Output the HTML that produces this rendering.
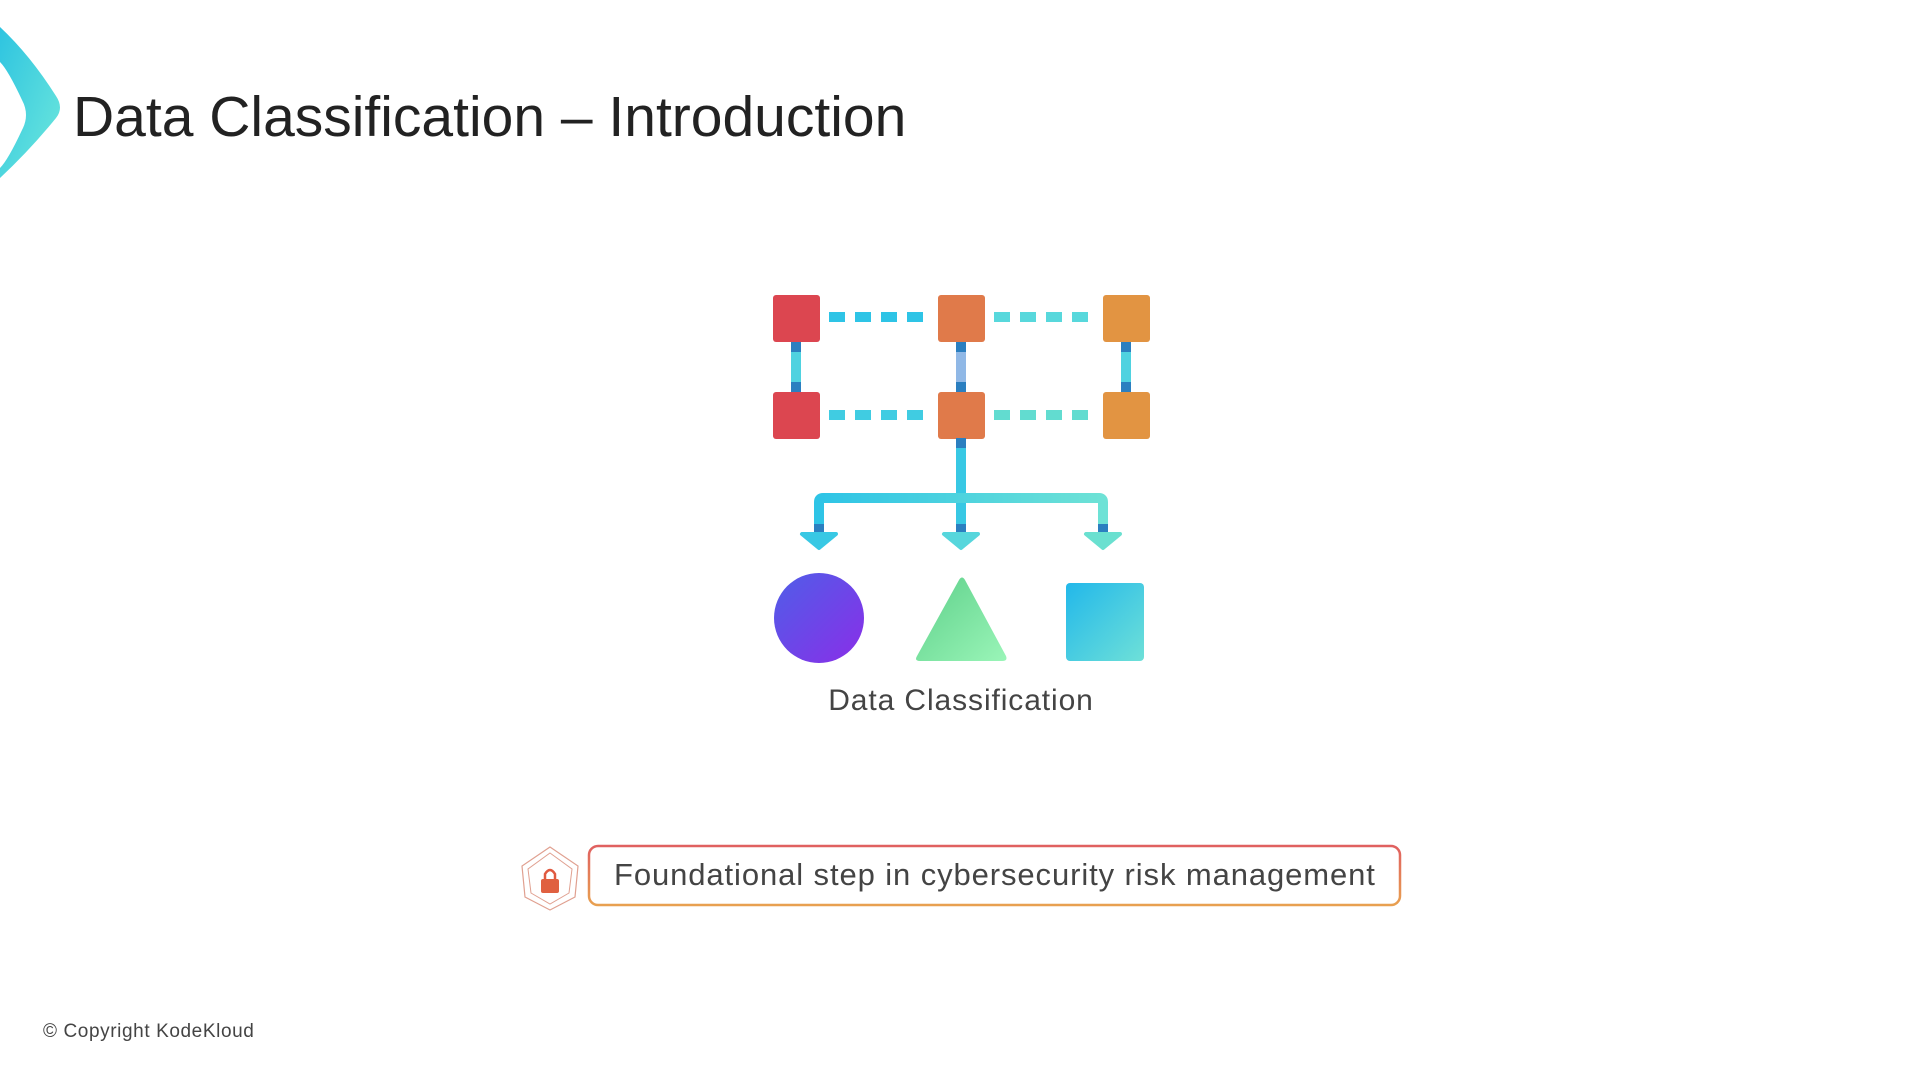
<!DOCTYPE html>
<html><head><meta charset="utf-8"><style>
html,body{margin:0;padding:0;background:#fff;}
body{width:1920px;height:1080px;position:relative;overflow:hidden;font-family:"Liberation Sans","DejaVu Sans",sans-serif;}
.t{position:absolute;white-space:nowrap;}
</style></head><body>
<svg width="1920" height="1080" style="position:absolute;left:0;top:0">
<defs>
<linearGradient id="chev" x1="0" y1="0" x2="1" y2="1"><stop offset="0" stop-color="#2ec4e0"/><stop offset="1" stop-color="#6ee8dc"/></linearGradient>
<linearGradient id="circ" x1="0" y1="0" x2="1" y2="1"><stop offset="0" stop-color="#4f5ee8"/><stop offset="1" stop-color="#8a2ee8"/></linearGradient>
<linearGradient id="tri" x1="0" y1="0" x2="1" y2="1"><stop offset="0" stop-color="#5ed08a"/><stop offset="1" stop-color="#9af5b8"/></linearGradient>
<linearGradient id="sq" x1="0" y1="0" x2="1" y2="1"><stop offset="0" stop-color="#22b8ea"/><stop offset="1" stop-color="#6ee0d8"/></linearGradient>
<linearGradient id="bar" x1="0" y1="0" x2="1" y2="0"><stop offset="0" stop-color="#2ec4e6"/><stop offset="1" stop-color="#6ee2d6"/></linearGradient>
<linearGradient id="box" x1="0" y1="0" x2="0" y2="1"><stop offset="0" stop-color="#e06060"/><stop offset="1" stop-color="#e8a050"/></linearGradient>
</defs>
<path d="M0,27 L0,62 Q8,70 22,100 Q30,115 22,130 Q8,160 0,168 L0,178 Q30,150 56,118 Q64,108 56,96 Q30,55 0,27 Z" fill="url(#chev)"/>
<!-- dashes -->
<g fill="#2ec4e6">
<rect x="829" y="312" width="16" height="10"/><rect x="855" y="312" width="16" height="10"/><rect x="881" y="312" width="16" height="10"/><rect x="907" y="312" width="16" height="10"/>
<rect x="829" y="410" width="16" height="10" fill="#40cce2"/><rect x="855" y="410" width="16" height="10" fill="#40cce2"/><rect x="881" y="410" width="16" height="10" fill="#40cce2"/><rect x="907" y="410" width="16" height="10" fill="#40cce2"/>
</g>
<g fill="#58d8dc">
<rect x="994" y="312" width="16" height="10"/><rect x="1020" y="312" width="16" height="10"/><rect x="1046" y="312" width="16" height="10"/><rect x="1072" y="312" width="16" height="10"/>
<rect x="994" y="410" width="16" height="10" fill="#62dcd0"/><rect x="1020" y="410" width="16" height="10" fill="#62dcd0"/><rect x="1046" y="410" width="16" height="10" fill="#62dcd0"/><rect x="1072" y="410" width="16" height="10" fill="#62dcd0"/>
</g>
<!-- verticals -->
<rect x="791" y="342" width="10" height="50" fill="#4fd2e0"/><rect x="791" y="342" width="10" height="10" fill="#2b7fc0"/><rect x="791" y="382" width="10" height="10" fill="#2b7fc0"/>
<rect x="956" y="342" width="10" height="50" fill="#90b8e6"/><rect x="956" y="342" width="10" height="10" fill="#2b7fc0"/><rect x="956" y="382" width="10" height="10" fill="#2b7fc0"/>
<rect x="1121" y="342" width="10" height="50" fill="#4fd2e0"/><rect x="1121" y="342" width="10" height="10" fill="#2b7fc0"/><rect x="1121" y="382" width="10" height="10" fill="#2b7fc0"/>
<!-- squares -->
<rect x="773" y="295" width="47" height="47" rx="3" fill="#dc4650"/>
<rect x="938" y="295" width="47" height="47" rx="3" fill="#e07a4a"/>
<rect x="1103" y="295" width="47" height="47" rx="3" fill="#e29442"/>
<rect x="773" y="392" width="47" height="47" rx="3" fill="#dc4650"/>
<rect x="938" y="392" width="47" height="47" rx="3" fill="#e07a4a"/>
<rect x="1103" y="392" width="47" height="47" rx="3" fill="#e29442"/>
<!-- tree -->
<rect x="956" y="438" width="10" height="90" fill="#38c8e4"/><rect x="956" y="438" width="10" height="10" fill="#2b7fc0"/>
<path d="M819,532 L819,502 Q819,498 823,498 L1099,498 Q1103,498 1103,502 L1103,532" fill="none" stroke="url(#bar)" stroke-width="10"/>
<rect x="814" y="524" width="10" height="10" fill="#2b7fc0"/><rect x="956" y="524" width="10" height="10" fill="#2b7fc0"/><rect x="1098" y="524" width="10" height="10" fill="#2b7fc0"/>
<path d="M802,534 L836,534 L819,548 Z" fill="#38c8e4" stroke="#38c8e4" stroke-width="4" stroke-linejoin="round"/>
<path d="M944,534 L978,534 L961,548 Z" fill="#56d6dc" stroke="#56d6dc" stroke-width="4" stroke-linejoin="round"/>
<path d="M1086,534 L1120,534 L1103,548 Z" fill="#6ae0d0" stroke="#6ae0d0" stroke-width="4" stroke-linejoin="round"/>
<!-- shapes -->
<circle cx="819" cy="618" r="45" fill="url(#circ)"/>
<path d="M959,580 Q962,575 965,580 L1006,656 Q1008,661 1002,661 L920,661 Q914,661 917,656 Z" fill="url(#tri)"/>
<rect x="1066" y="583" width="78" height="78" rx="4" fill="url(#sq)"/>
<!-- box -->
<rect x="589" y="846" width="811" height="59" rx="9" fill="#fff" stroke="url(#box)" stroke-width="2.5"/>
<!-- shield -->
<path d="M550,847 L578,866 L575,897 L550,910 L525,897 L522,866 Z" fill="none" stroke="#e0a090" stroke-width="1.2"/>
<path d="M550,853 L572,869 L569,893 L550,904 L531,893 L528,869 Z" fill="none" stroke="#e0a090" stroke-width="1"/>
<path d="M545,880 L545,874 Q550,866 555,874 L555,880" fill="none" stroke="#e05a40" stroke-width="2.5"/>
<rect x="541" y="879" width="18" height="14" rx="2" fill="#e06040"/>
</svg>
<div class="t" style="left:73px;top:84px;font-size:57px;color:#222;">Data Classification – Introduction</div>
<div class="t" style="left:961px;top:684px;transform:translateX(-50%);font-size:30px;letter-spacing:0.9px;color:#444;">Data Classification</div>
<div class="t" style="left:614px;top:857px;font-size:31px;letter-spacing:0.9px;color:#444;">Foundational step in cybersecurity risk management</div>
<div class="t" style="left:43px;top:1021px;font-size:19px;letter-spacing:0.6px;color:#444;">© Copyright KodeKloud</div>
</body></html>
